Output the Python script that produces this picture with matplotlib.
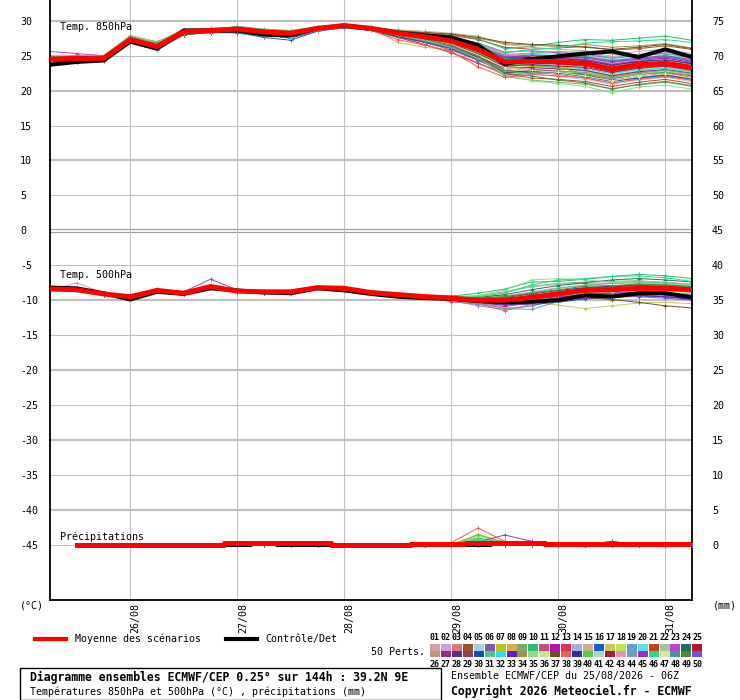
import numpy as np
import matplotlib
matplotlib.use("Agg")
import matplotlib.pyplot as plt
from matplotlib.patches import Rectangle
from matplotlib.lines import Line2D

MONO = "DejaVu Sans Mono"

# time axis: 25/08 06Z + 0..144h, every 6h
hours = np.arange(0, 145, 6)
day_hours = [18, 42, 66, 90, 114, 138]
day_labels = ["26/08", "27/08", "28/08", "29/08", "30/08", "31/08"]

left_ticks = list(range(-45, 31, 5))
right_ticks = list(range(0, 76, 5))

mean_850 = [24.5, 24.6, 24.6, 27.3, 26.3, 28.4, 28.6, 28.8, 28.4, 28.2, 28.9, 29.3, 28.9,
            28.2, 27.7, 27.1, 25.9, 24.1, 24.2, 24.1, 23.9, 23.1, 23.7, 23.9, 23.3]
ctrl_850 = [23.7, 24.1, 24.3, 27.0, 26.0, 28.6, 28.6, 28.6, 28.0, 27.9, 28.9, 29.3, 28.9,
            28.3, 27.9, 27.6, 26.5, 23.8, 24.5, 24.9, 25.3, 25.6, 24.8, 25.9, 24.8]
mean_500 = [-8.4, -8.5, -9.1, -9.5, -8.6, -9.0, -8.05, -8.7, -8.8, -8.8, -8.2, -8.3, -8.9,
            -9.2, -9.5, -9.7, -10.0, -10.0, -9.6, -9.1, -8.6, -8.5, -8.3, -8.3, -8.5]
ctrl_500 = [-8.2, -8.3, -9.0, -9.9, -8.8, -9.1, -8.3, -8.6, -8.9, -9.0, -8.3, -8.6, -9.1,
            -9.5, -9.7, -9.8, -10.1, -10.3, -10.2, -10.0, -9.3, -9.5, -9.0, -9.0, -9.6]
# precipitation (mm), from +6h
mean_rr = [0, 0, 0, 0, 0, 0, 0.2, 0.2, 0.2, 0.2, 0, 0, 0, 0.1, 0.1,
           0.25, 0.25, 0.25, 0.15, 0.15, 0.15, 0.15, 0.15, 0.15]
ctrl_rr = [0, 0, 0, 0, 0, 0, 0, 0.2, 0, 0, 0, 0, 0, 0.1, 0.1,
           0, 0.2, 0.2, 0, 0, 0, 0, 0, 0]

member_colors = [
    "#d4a0a8", "#d0a0e0", "#d87880", "#a0522d", "#a0d0e8", "#8058b0", "#c0c020", "#d8b050",
    "#78b068", "#28c070", "#c85078", "#c010b0", "#e03050", "#a0b0e0", "#c8b088", "#1860c0",
    "#c8c860", "#b8e850", "#68a0d8", "#60e0e8", "#c04020", "#a0c8a0", "#c040d0", "#207060",
    "#b01828", "#c09878", "#903078", "#603080", "#904050", "#1850a0", "#58c090", "#30e0e0",
    "#6020d0", "#a09050", "#90d890", "#c8e888", "#705020", "#e86058", "#383080", "#50d040",
    "#b0d8c8", "#a02040", "#e890c8", "#70a0b0", "#a030c0", "#20e090", "#e0e8a0", "#409898",
    "#508838", "#7050e8"]

members_850 = """
24.9 24.8 24.9 27.6 26.5 28.6 28.9 28.5 28.3 28.0 28.7 29.1 28.6 27.9 27.2 26.4 25.1 23.4 23.0 23.2 22.8 22.0 22.6 23.0 22.4
24.2 24.4 24.3 27.0 26.0 28.1 28.4 29.0 28.6 28.4 29.1 29.4 29.1 28.6 28.0 27.6 26.6 25.1 25.3 25.4 25.6 24.9 25.2 25.5 25.0
24.7 24.9 24.8 27.5 26.7 28.5 28.7 28.6 28.1 27.8 28.6 29.2 28.8 27.7 26.6 25.5 24.0 22.2 22.6 22.3 21.8 21.0 21.7 22.1 21.4
24.4 24.5 24.7 27.2 26.2 28.3 28.8 29.1 28.7 28.5 29.0 29.3 29.0 28.5 28.2 27.9 27.3 26.2 25.9 26.1 26.3 25.8 26.0 26.4 25.9
24.6 24.7 24.5 27.4 26.4 28.5 28.3 28.2 27.8 27.5 28.5 29.0 28.7 28.0 27.4 26.8 25.2 22.7 22.4 22.0 21.6 20.9 21.5 21.9 21.3
24.3 24.5 24.6 27.1 26.1 28.2 28.6 28.9 28.5 28.3 29.0 29.4 29.0 28.4 27.9 27.3 26.2 24.6 24.8 25.0 24.7 24.0 24.4 24.6 24.1
24.8 24.6 24.7 27.7 26.8 28.7 28.9 28.7 28.2 28.0 28.8 29.2 28.7 28.0 27.3 26.5 25.0 23.0 23.5 23.3 22.9 22.2 22.8 23.3 22.7
24.5 24.7 24.6 27.3 26.5 28.4 28.5 28.4 28.1 27.9 28.7 29.1 28.9 26.9 26.2 25.8 24.6 23.3 23.8 24.0 23.6 22.8 23.4 23.8 23.1
24.6 24.4 24.5 27.2 26.0 28.3 28.6 29.2 28.8 28.6 29.1 29.3 28.8 28.1 27.5 26.7 24.8 22.0 21.5 21.2 20.9 20.3 20.8 21.2 20.6
24.9 25.0 24.9 27.8 27.0 28.6 28.7 28.9 28.5 28.2 28.9 29.4 29.1 28.6 28.3 28.0 27.4 26.0 26.3 26.9 27.3 27.2 27.5 27.8 27.2
24.2 24.3 24.4 26.9 25.9 28.0 28.4 28.6 28.3 28.1 28.8 29.2 28.7 27.8 26.9 25.8 24.3 22.8 23.1 22.7 22.3 21.5 22.0 22.5 21.9
24.7 24.8 24.8 27.4 26.3 28.5 28.8 29.0 28.6 28.4 29.0 29.3 28.9 28.3 27.8 27.2 26.1 24.8 24.5 24.9 24.5 23.8 24.3 24.7 24.0
24.4 24.6 24.7 27.2 26.2 28.4 28.5 28.6 28.0 27.6 28.6 29.1 28.6 27.6 26.6 25.4 23.9 22.5 22.9 22.8 22.4 21.7 22.3 22.6 22.1
24.5 24.5 24.4 27.3 26.3 28.4 28.6 28.8 28.4 28.2 28.9 29.3 28.9 28.2 27.6 27.0 25.5 23.6 23.9 23.6 23.3 22.5 23.1 23.4 22.8
25.0 24.9 25.0 27.9 26.9 28.8 28.9 28.6 28.2 28.0 28.8 29.2 28.9 28.7 28.5 28.2 27.8 26.6 26.2 25.9 25.7 25.2 25.6 25.9 25.3
24.1 24.3 24.4 26.8 25.8 28.0 28.3 28.3 27.6 27.2 28.5 29.0 28.6 27.9 27.2 26.4 25.0 23.5 23.8 23.9 23.7 23.0 23.6 23.8 23.2
24.6 24.7 24.8 27.4 26.5 28.5 28.7 28.9 28.5 28.3 28.9 29.4 29.0 28.4 28.0 27.5 26.5 25.3 25.1 24.7 24.3 23.6 24.0 24.3 23.7
24.4 24.5 24.5 27.1 26.1 28.2 28.8 29.0 28.7 28.5 29.1 29.3 28.8 28.0 27.4 26.6 25.3 23.1 22.6 22.5 22.7 22.0 22.4 22.9 22.3
24.8 24.8 24.7 27.6 26.6 28.6 28.6 28.5 28.0 27.7 28.7 29.2 28.8 28.1 27.6 27.0 25.8 24.0 24.3 24.2 24.0 23.2 23.8 24.0 23.5
24.3 24.4 24.6 27.0 26.0 28.3 28.6 28.7 28.3 28.1 28.8 29.2 28.9 28.3 27.9 27.4 26.4 24.9 25.2 25.0 25.0 24.4 24.7 25.1 24.5
24.7 24.6 24.7 27.5 26.4 28.4 28.7 28.6 28.2 28.0 28.7 29.2 28.7 27.8 27.0 26.1 24.5 22.4 21.8 21.6 21.3 20.6 21.2 21.6 21.0
24.5 24.6 24.6 27.3 26.2 28.4 28.5 28.8 28.4 28.1 28.9 29.3 28.9 28.2 27.7 27.2 26.0 24.3 24.6 24.4 24.2 23.5 24.0 24.2 23.6
25.6 25.3 25.0 27.4 26.6 28.6 28.8 29.1 28.6 28.3 29.0 29.4 29.0 28.5 28.1 27.7 26.8 25.5 25.7 25.4 25.2 24.6 25.0 25.3 24.7
24.3 24.4 24.3 27.0 25.9 28.1 28.4 28.4 27.9 27.7 28.6 29.1 28.7 28.0 27.3 26.3 24.7 22.9 22.5 22.6 22.2 21.4 21.9 22.3 21.7
24.8 24.9 24.8 27.6 26.7 28.6 28.7 28.8 28.4 28.2 28.9 29.3 28.8 28.1 27.5 26.9 25.5 23.8 24.1 23.8 23.5 22.7 23.3 23.6 23.0
24.4 24.6 24.5 27.2 26.3 28.4 28.6 28.7 28.3 28.0 28.8 29.2 28.8 28.2 27.7 27.0 25.7 24.1 24.4 24.3 24.1 23.3 23.9 24.1 23.5
24.6 24.5 24.7 27.3 26.2 28.3 28.5 28.9 28.6 28.4 29.0 29.3 28.9 28.3 27.8 27.3 26.3 24.7 24.9 24.6 24.4 23.7 24.1 24.4 23.9
24.5 24.7 24.6 27.5 26.5 28.5 28.7 28.6 28.1 27.9 28.7 29.2 28.7 27.9 27.1 26.2 24.8 23.2 23.3 23.1 22.9 22.1 22.7 23.0 22.5
24.2 24.3 24.5 26.9 25.9 28.1 28.5 28.8 28.5 28.3 29.0 29.3 28.9 28.4 27.9 27.4 26.5 25.0 24.7 24.4 24.1 23.4 23.8 24.2 23.6
24.7 24.7 24.6 27.4 26.4 28.5 28.6 28.5 28.0 27.5 28.6 29.1 28.6 27.7 26.9 26.0 24.4 22.6 22.8 22.5 22.0 21.3 21.8 22.2 21.6
24.6 24.8 24.8 27.6 26.6 28.6 28.8 29.0 28.6 28.4 29.0 29.4 29.0 28.4 27.9 27.4 26.4 25.1 25.4 25.6 25.4 24.7 25.1 25.3 24.8
23.5 24.0 24.3 27.1 26.0 28.2 28.5 28.7 28.2 28.0 28.8 29.2 28.8 28.1 27.5 26.8 25.4 23.7 23.6 23.4 23.1 22.4 23.0 23.2 22.6
24.5 24.6 24.7 27.3 26.3 28.5 28.7 28.8 28.4 28.2 28.9 29.3 28.9 28.2 27.6 27.1 25.9 24.4 24.2 24.0 23.8 23.1 23.6 23.8 23.2
24.9 24.8 24.9 27.7 26.8 28.7 28.8 28.7 28.3 28.1 28.8 29.3 29.0 28.6 28.3 28.0 27.5 26.7 26.5 26.3 26.6 26.2 26.4 26.7 26.1
24.4 24.4 24.5 27.1 26.1 28.3 28.6 28.9 28.5 28.3 28.9 29.3 28.8 28.0 27.2 26.2 24.6 22.3 21.4 21.0 20.6 19.7 20.5 20.8 20.2
24.6 24.7 24.6 27.4 26.4 28.4 28.6 28.6 28.2 28.0 28.8 29.2 28.8 28.2 27.7 27.1 25.8 24.2 24.5 24.3 24.2 23.4 23.9 24.3 23.7
24.2 24.3 24.4 26.9 25.9 28.0 28.3 28.4 27.9 27.6 28.6 29.1 28.8 28.5 28.3 28.1 27.6 26.9 26.6 26.5 26.2 25.9 26.2 26.6 26.0
24.7 24.8 24.7 27.5 26.5 28.5 28.8 29.0 28.6 28.4 29.0 29.3 28.6 27.3 26.5 25.6 23.4 21.9 22.3 22.1 21.8 21.1 21.6 22.0 21.5
24.5 24.5 24.6 27.2 26.2 28.3 28.6 28.8 28.4 28.2 28.9 29.3 28.9 28.3 27.8 27.3 26.2 24.5 24.8 24.6 24.3 23.6 24.2 24.4 23.8
24.8 24.9 24.9 27.7 26.7 28.6 28.7 28.5 28.1 27.8 28.7 29.2 28.7 27.9 27.2 26.5 25.2 23.9 23.6 23.3 22.4 21.8 22.3 22.7 22.2
24.3 24.4 24.5 27.0 26.1 28.2 28.5 28.8 28.4 28.1 28.9 29.3 28.9 28.3 27.8 27.2 26.1 24.4 24.0 24.1 23.9 23.2 23.8 24.0 23.4
24.6 24.6 24.6 27.4 26.4 28.5 28.7 28.7 28.3 28.1 28.8 29.2 28.8 28.1 27.5 26.7 25.3 23.5 23.7 23.5 23.3 22.6 23.2 23.5 22.9
24.4 24.6 24.7 27.3 26.4 28.4 28.6 28.9 28.5 28.3 29.0 29.3 28.9 28.4 28.0 27.5 26.6 25.2 25.0 24.8 24.6 23.9 24.4 24.8 24.2
24.7 24.7 24.8 27.5 26.5 28.6 28.8 28.8 28.3 28.0 28.8 29.2 28.7 27.9 27.1 26.2 24.5 22.8 22.4 22.8 22.6 21.9 22.5 22.9 22.4
24.5 24.5 24.4 27.2 26.2 28.3 28.5 28.6 28.2 28.0 28.8 29.2 28.8 28.2 27.6 27.0 25.6 24.0 24.2 24.5 24.8 24.3 24.6 25.0 24.4
24.6 24.8 24.7 27.6 26.6 28.6 28.9 29.1 28.7 28.5 29.1 29.4 29.0 28.5 28.1 27.6 26.7 25.4 25.9 26.1 26.8 27.0 27.1 27.3 26.9
24.3 24.4 24.5 27.0 26.0 28.2 28.4 28.5 28.0 27.7 28.6 29.1 28.7 28.0 27.4 26.6 25.1 23.3 22.9 22.6 22.1 21.4 22.0 22.4 21.8
24.8 24.7 24.8 27.6 26.6 28.5 28.7 28.7 28.3 28.1 28.8 29.2 28.8 28.2 27.7 27.2 26.0 24.6 24.3 24.7 24.9 24.2 24.5 24.9 24.3
24.5 24.6 24.6 27.3 26.3 28.4 28.6 28.8 28.4 28.2 28.9 29.3 28.9 28.1 27.4 26.5 24.9 22.5 22.1 21.5 21.1 20.2 20.9 21.3 20.7
24.6 24.5 24.7 27.4 26.4 28.5 28.7 28.9 28.5 28.3 29.0 29.3 28.9 28.3 27.9 27.4 26.3 24.8 25.1 24.9 24.7 24.1 24.5 24.8 24.2
"""

members_500 = """
-8.6 -7.5 -9.0 -9.4 -8.5 -8.9 -8.2 -8.8 -8.9 -8.7 -8.3 -8.5 -9.0 -9.3 -9.4 -9.5 -9.8 -9.9 -9.4 -8.9 -8.5 -8.3 -8.1 -8.2 -8.4
-8.3 -8.6 -9.2 -9.6 -8.7 -8.9 -7.9 -8.6 -8.7 -8.9 -8.1 -8.2 -8.8 -9.1 -9.3 -9.5 -9.6 -9.4 -8.8 -8.2 -7.9 -7.6 -7.5 -7.7 -8.0
-8.5 -8.4 -9.0 -9.5 -8.7 -9.1 -8.1 -8.8 -8.9 -8.8 -8.3 -8.4 -9.0 -9.3 -9.6 -9.9 -10.3 -10.5 -10.2 -9.9 -9.5 -9.6 -9.3 -9.4 -9.8
-8.4 -8.5 -9.1 -9.4 -8.5 -9.0 -8.0 -8.7 -8.8 -8.9 -8.2 -8.3 -8.8 -9.1 -9.5 -9.9 -10.1 -10.4 -10.0 -9.4 -9.0 -8.7 -8.8 -9.0 -9.3
-8.3 -8.4 -9.2 -9.6 -8.6 -8.9 -8.1 -8.6 -8.7 -8.8 -8.2 -8.3 -8.9 -9.2 -9.4 -9.6 -9.9 -10.0 -9.4 -8.6 -8.1 -8.0 -7.8 -7.9 -8.1
-8.5 -8.6 -9.0 -9.4 -8.4 -8.8 -7.0 -8.5 -8.8 -8.7 -8.1 -8.2 -8.9 -9.3 -9.6 -9.8 -10.1 -10.2 -9.8 -9.3 -8.7 -8.6 -8.4 -8.3 -8.5
-8.4 -8.5 -9.1 -9.5 -8.7 -9.0 -8.1 -8.7 -8.9 -8.8 -8.3 -8.4 -9.0 -9.3 -9.5 -9.6 -9.8 -9.7 -9.6 -9.4 -9.1 -8.9 -8.7 -8.8 -9.0
-8.6 -8.5 -9.0 -9.4 -8.6 -9.0 -8.0 -8.8 -8.8 -8.9 -8.2 -8.4 -8.9 -9.0 -9.2 -9.4 -9.5 -9.3 -9.2 -9.0 -8.8 -8.5 -8.4 -8.4 -8.6
-8.4 -8.4 -9.1 -9.5 -8.5 -9.1 -8.2 -8.7 -8.7 -8.8 -8.3 -8.3 -8.9 -9.2 -9.5 -9.5 -9.4 -8.8 -8.0 -7.6 -7.4 -7.3 -7.2 -7.5 -7.7
-8.3 -8.5 -9.0 -9.6 -8.6 -9.0 -8.1 -8.6 -8.8 -8.8 -8.2 -8.3 -8.9 -9.2 -9.4 -9.4 -9.0 -8.4 -7.4 -7.3 -7.0 -6.6 -6.3 -6.5 -6.9
-8.5 -8.6 -9.2 -9.5 -8.7 -8.9 -8.0 -8.8 -8.9 -8.9 -8.3 -8.4 -9.0 -9.3 -9.6 -9.8 -10.2 -10.4 -10.1 -9.6 -9.2 -9.0 -8.9 -9.1 -9.4
-8.4 -8.5 -9.1 -9.4 -8.6 -9.0 -8.1 -8.7 -8.8 -8.8 -8.2 -8.3 -8.9 -9.2 -9.5 -9.7 -10.0 -9.9 -9.5 -9.0 -8.6 -8.4 -8.2 -8.2 -8.4
-8.4 -8.6 -9.0 -9.5 -8.5 -9.0 -8.0 -8.7 -8.8 -8.9 -8.2 -8.3 -8.8 -9.1 -9.6 -10.2 -10.6 -10.9 -10.4 -9.8 -9.3 -9.1 -8.9 -9.0 -9.2
-8.5 -8.5 -9.1 -9.5 -8.6 -9.0 -8.1 -8.7 -8.7 -8.7 -8.2 -8.3 -8.9 -9.2 -9.4 -9.8 -10.5 -11.1 -10.9 -9.9 -9.0 -8.7 -8.5 -8.6 -8.8
-8.3 -8.4 -9.0 -9.4 -8.6 -8.9 -8.1 -8.7 -8.8 -8.8 -8.1 -8.3 -8.9 -9.2 -9.5 -9.7 -9.9 -10.0 -9.7 -9.3 -9.0 -8.9 -8.8 -8.9 -9.1
-8.5 -8.5 -9.1 -9.6 -8.6 -9.0 -8.0 -8.8 -8.9 -8.8 -8.3 -8.4 -9.0 -9.3 -9.6 -9.9 -10.3 -10.6 -10.3 -9.7 -9.1 -8.9 -8.6 -8.7 -9.0
-8.4 -8.5 -9.0 -9.5 -8.6 -9.0 -8.1 -8.7 -8.8 -8.8 -8.2 -8.3 -8.9 -9.2 -9.5 -9.7 -10.0 -10.1 -10.3 -10.7 -11.2 -10.8 -10.4 -10.3 -10.5
-8.4 -8.5 -9.1 -9.5 -8.7 -9.1 -8.1 -8.7 -8.8 -8.9 -8.2 -8.4 -8.9 -9.2 -9.4 -9.5 -9.6 -9.5 -9.1 -8.7 -8.3 -8.1 -7.9 -8.0 -8.2
-8.5 -8.6 -9.1 -9.4 -8.5 -9.0 -8.0 -8.7 -8.8 -8.8 -8.2 -8.3 -8.9 -9.2 -9.6 -10.0 -10.8 -11.3 -10.8 -9.9 -9.2 -8.9 -8.7 -8.8 -9.0
-8.4 -8.5 -9.0 -9.5 -8.6 -9.0 -8.1 -8.6 -8.8 -8.8 -8.2 -8.3 -8.9 -9.2 -9.5 -9.7 -9.9 -9.7 -9.3 -8.8 -8.4 -8.2 -8.0 -8.1 -8.4
-8.3 -8.5 -9.1 -9.5 -8.6 -9.0 -8.1 -8.7 -8.8 -8.8 -8.2 -8.3 -8.9 -9.2 -9.5 -9.8 -10.2 -10.3 -9.9 -9.4 -8.9 -8.6 -8.4 -8.5 -8.7
-8.5 -8.5 -9.0 -9.5 -8.6 -9.0 -8.0 -8.7 -8.8 -8.8 -8.2 -8.3 -8.9 -9.2 -9.5 -9.6 -9.4 -8.9 -8.1 -7.7 -7.6 -7.5 -7.3 -7.4 -7.8
-8.4 -8.4 -9.1 -9.5 -8.6 -9.0 -8.1 -8.7 -8.8 -8.8 -8.2 -8.3 -8.9 -9.2 -9.5 -9.7 -10.0 -10.1 -9.8 -9.2 -8.6 -8.3 -8.1 -8.1 -8.4
-8.4 -8.5 -9.1 -9.5 -8.6 -9.0 -8.1 -8.7 -8.8 -8.8 -8.2 -8.3 -8.9 -9.2 -9.5 -9.7 -9.6 -9.2 -8.5 -7.9 -7.5 -7.1 -6.9 -7.1 -7.4
-8.5 -8.6 -9.1 -9.4 -8.6 -9.0 -8.1 -8.7 -8.8 -8.8 -8.2 -8.3 -8.9 -9.3 -9.6 -10.0 -10.4 -10.7 -10.4 -9.9 -9.4 -9.2 -9.0 -9.1 -9.3
-8.4 -8.5 -9.1 -9.5 -8.6 -9.0 -8.1 -8.7 -8.8 -8.8 -8.2 -8.3 -8.9 -9.2 -9.5 -9.7 -10.0 -10.0 -9.6 -9.1 -8.6 -8.5 -8.3 -8.3 -8.5
-8.5 -8.5 -9.2 -9.6 -8.7 -9.1 -8.1 -8.8 -8.9 -8.9 -8.3 -8.4 -9.0 -9.3 -9.6 -9.8 -10.2 -10.3 -10.0 -9.5 -9.1 -9.0 -8.9 -9.2 -9.6
-8.3 -8.4 -9.0 -9.4 -8.5 -8.9 -8.0 -8.6 -8.7 -8.7 -8.1 -8.2 -8.8 -9.1 -9.4 -9.6 -9.8 -9.6 -9.1 -8.6 -8.2 -8.0 -7.8 -7.8 -8.0
-8.5 -8.5 -9.1 -9.5 -8.6 -9.0 -8.1 -8.7 -8.8 -8.8 -8.2 -8.3 -8.9 -9.2 -9.5 -9.7 -10.0 -10.2 -9.9 -9.4 -9.0 -8.8 -8.7 -8.8 -9.1
-8.4 -8.5 -9.1 -9.5 -8.6 -9.0 -8.1 -8.7 -8.8 -8.8 -8.2 -8.3 -8.9 -9.2 -9.5 -9.7 -10.1 -10.5 -10.6 -10.3 -9.8 -9.6 -9.4 -9.5 -9.8
-8.4 -8.5 -9.0 -9.5 -8.6 -9.0 -8.1 -8.7 -8.8 -8.8 -8.2 -8.3 -8.9 -9.2 -9.5 -9.6 -9.7 -9.5 -8.9 -8.3 -7.8 -7.6 -7.4 -7.5 -7.8
-8.4 -8.5 -9.1 -9.5 -8.6 -9.0 -8.1 -8.7 -8.8 -8.8 -8.2 -8.3 -8.9 -9.2 -9.5 -9.7 -10.0 -10.1 -9.7 -9.2 -8.8 -8.6 -8.4 -8.5 -8.8
-8.5 -8.6 -9.1 -9.5 -8.6 -9.0 -8.1 -8.7 -8.8 -8.9 -8.2 -8.3 -8.9 -9.2 -9.6 -9.9 -10.4 -10.6 -10.4 -10.0 -9.7 -9.4 -9.3 -9.5 -9.9
-8.4 -8.5 -9.1 -9.5 -8.6 -9.0 -8.1 -8.7 -8.8 -8.8 -8.2 -8.3 -8.9 -9.2 -9.5 -9.7 -10.0 -10.0 -9.5 -9.0 -8.5 -8.3 -8.0 -8.1 -8.3
-8.4 -8.5 -9.1 -9.5 -8.6 -9.0 -8.1 -8.7 -8.8 -8.8 -8.2 -8.3 -8.9 -9.2 -9.5 -9.6 -9.3 -8.6 -7.1 -6.9 -7.1 -7.4 -7.6 -7.7 -7.9
-8.5 -8.5 -9.1 -9.5 -8.6 -9.0 -8.1 -8.7 -8.8 -8.8 -8.2 -8.3 -8.9 -9.2 -9.5 -9.7 -10.0 -10.1 -9.6 -9.1 -8.7 -8.6 -8.4 -8.4 -8.6
-8.4 -8.5 -9.1 -9.5 -8.6 -9.0 -8.1 -8.7 -8.8 -8.8 -8.2 -8.3 -8.9 -9.2 -9.5 -9.8 -10.1 -10.2 -10.0 -9.8 -9.6 -9.9 -10.3 -10.8 -11.1
-8.4 -8.5 -9.1 -9.5 -8.6 -9.0 -8.1 -8.7 -8.8 -8.8 -8.2 -8.3 -8.9 -9.2 -9.5 -10.0 -10.5 -11.5 -10.6 -9.6 -8.9 -8.6 -8.3 -8.4 -8.6
-8.5 -8.5 -9.1 -9.5 -8.6 -9.0 -8.1 -8.7 -8.8 -8.8 -8.2 -8.3 -8.9 -9.2 -9.5 -9.7 -10.1 -10.3 -10.1 -9.6 -9.1 -8.8 -8.6 -8.6 -8.9
-8.4 -8.5 -9.1 -9.5 -8.6 -9.0 -8.1 -8.7 -8.8 -8.8 -8.2 -8.3 -8.9 -9.2 -9.5 -9.7 -9.9 -9.8 -9.4 -8.9 -8.5 -8.4 -8.1 -8.2 -8.5
-8.4 -8.5 -9.1 -9.5 -8.6 -9.0 -8.1 -8.7 -8.8 -8.8 -8.2 -8.3 -8.9 -9.2 -9.5 -9.7 -10.2 -10.4 -10.0 -9.5 -9.0 -8.8 -8.5 -8.7 -9.0
-8.4 -8.5 -9.1 -9.5 -8.6 -9.0 -8.1 -8.7 -8.8 -8.8 -8.2 -8.3 -8.9 -9.2 -9.5 -9.7 -10.0 -9.9 -9.4 -8.8 -8.3 -8.1 -7.9 -8.0 -8.2
-8.5 -8.5 -9.1 -9.5 -8.6 -9.0 -8.1 -8.7 -8.8 -8.8 -8.2 -8.3 -8.9 -9.2 -9.5 -9.7 -10.0 -10.2 -9.9 -9.4 -8.9 -8.7 -8.5 -8.6 -8.9
-8.4 -8.5 -9.1 -9.5 -8.6 -9.0 -8.1 -8.7 -8.8 -8.8 -8.2 -8.3 -8.9 -9.2 -9.5 -9.8 -10.4 -11.2 -11.3 -10.2 -9.4 -9.1 -8.8 -8.9 -9.2
-8.4 -8.5 -9.1 -9.5 -8.6 -9.0 -8.1 -8.7 -8.8 -8.8 -8.2 -8.3 -8.9 -9.2 -9.5 -9.7 -10.0 -10.1 -9.8 -9.5 -9.2 -9.0 -8.8 -9.0 -9.5
-8.4 -8.5 -9.1 -9.5 -8.6 -9.0 -8.1 -8.7 -8.8 -8.8 -8.2 -8.3 -8.9 -9.2 -9.5 -9.6 -9.5 -9.0 -7.8 -7.1 -6.9 -6.6 -6.5 -6.8 -7.3
-8.5 -8.5 -9.1 -9.5 -8.6 -9.0 -8.1 -8.7 -8.8 -8.8 -8.2 -8.3 -8.9 -9.2 -9.5 -9.7 -10.0 -10.0 -9.7 -9.3 -8.9 -8.8 -8.7 -8.8 -9.0
-8.4 -8.5 -9.1 -9.5 -8.6 -9.0 -8.1 -8.7 -8.8 -8.8 -8.2 -8.3 -8.9 -9.2 -9.5 -9.7 -10.1 -10.2 -9.8 -9.2 -8.7 -8.5 -8.3 -8.3 -8.6
-8.4 -8.5 -9.1 -9.5 -8.6 -9.0 -8.1 -8.7 -8.8 -8.8 -8.2 -8.3 -8.9 -9.2 -9.5 -9.6 -9.7 -9.5 -9.0 -8.5 -8.0 -7.9 -7.7 -7.8 -8.1
-8.5 -8.5 -9.1 -9.5 -8.6 -9.0 -8.1 -8.7 -8.8 -8.8 -8.2 -8.3 -8.9 -9.2 -9.5 -9.8 -10.3 -10.6 -10.3 -9.9 -9.6 -9.5 -9.5 -9.7 -10.0
"""

# precipitation per member (mm), from +6h
members_rr = """
0 0 0 0 0 0 0 0 0 0 0 0 0 0 0 0 0 0 0 0 0 0 0 0
0 0 0 0 0 0 0 0 0 0 0 0 0 0 0 0 0 0 0 0 0 0 0 0
0 0 0 0 0 0 0 0 0 0 0 0 0 0 0 0 0 0 0 0 0 0 0 0
0 0 0 0 0 0 0 0 0 0 0 0 0 0 0 0 0 0 0 0 0 0 0 0
0 0 0 0 0 0 0 0 0 0 0 0 0 0 0 0.6 0 0 0 0 0 0 0 0
0 0 0 0 0 0 0 0 0 0 0 0 0 0 0 0 0 0 0 0 0 0 0 0
0 0 0 0 0 0 0 0 0 0 0 0 0 0 0 1.5 0.4 0 0 0 0 0 0 0
0 0 0 0 0 0 0 0.1 0 0 0 0 0 0 0 0 0 0 0 0 0 0 0 0
0 0 0 0 0 0 0 0 0 0 0 0 0 0 0 0 0 0 0 0 0 0 0 0
0 0 0 0 0 0 0 0 0 0 0 0 0 0 0 0.8 0 0 0 0 0 0 0 0
0 0 0 0 0 0 0 0 0 0 0 0 0 0 0 0 0 0 0 0 0 0 0 0
0 0 0 0 0 0 0 0 0 0 0 0 0 0 0 0.3 0 0 0 0 0 0 0 0
0 0 0 0 0 0 0 0 0 0 0 0 0 0 0 0 0 0 0 0 0 0 0 0
0 0 0 0 0 0 0 0 0 0 0 0 0 0 0 0.9 0.2 0 0 0 0 0 0 0
0 0 0 0 0 0 0 0 0 0 0 0 0 0 0 0 0 0 0 0 0 0 0 0
0 0 0 0 0 0 0 0 0 0 0 0 0 0 0 0 0 0.4 0.3 0 0 0 0 0
0 0 0 0 0 0 0 0 0 0 0 0 0 0 0 0 0 0 0 0 0 0 0 0
0 0 0 0 0 0 0 0 0 0 0 0 0 0 0 1.2 0.3 0 0 0 0 0 0 0
0 0 0 0 0 0 0 0 0 0 0 0 0 0 0 0 0 0 0 0 0 0 0 0
0 0 0 0 0 0 0 0 0 0 0 0 0 0 0 0 0 0 0 0 0 0 0 0
0 0 0 0 0 0 0 0 0 0 0 0 0 0 0 0 0 0 0 0 0 0 0 0
0 0 0 0 0 0 0 0 0 0 0 0 0 0 0 0 0 0 0 0 0 0 0 0
0 0 0 0 0 0 0 0 0 0 0 0 0 0 0 0 0 0 0 0 0 0 0 0
0 0 0 0 0 0 0 0 0 0 0 0 0 0 0 0 0 0 0 0 0 0 0 0
0 0 0 0 0 0 0 0 0 0 0 0 0 0 0 0 0 0 0 0 0 0 0 0
0 0 0 0 0 0 0 0 0 0.1 0 0 0 0 0 0 0 0 0 0 0 0 0 0
0 0 0 0 0 0 0 0 0 0 0 0 0 0 0 0 0 0 0 0 0 0 0 0
0 0 0 0 0 0 0 0 0 0 0 0 0 0 0 0 0 0 0 0 0 0 0 0
0 0 0 0 0 0 0 0 0 0 0 0 0 0 0 0 0 0 0 0 0 0 0 0
0 0 0 0 0 0 0 0 0 0 0 0 0 0 0 0 0 0.3 0.3 0 0 0 0 0
0 0 0 0 0 0 0 0 0 0 0 0 0 0 0 1.0 0.2 0 0 0 0 0 0 0
0 0 0 0 0 0 0 0 0 0 0 0 0 0 0 0 0 0 0 0 0 0 0 0
0 0 0 0 0 0 0 0 0 0 0 0 0 0 0 0 0 0 0 0 0.5 0 0 0
0 0 0 0 0 0 0 0 0 0 0 0 0 0 0 0 0 0 0 0 0 0 0 0
0 0 0 0 0 0 0 0 0 0 0 0 0 0 0 0 0 0 0 0 0 0 0 0
0 0 0 0 0 0 0 0 0 0 0 0 0 0 0 0 0 0 0 0 0 0 0 0
0 0 0 0 0 0 0 0 0 0 0 0 0 0 0 0 0 0 0 0 0 0 0 0
0 0 0 0 0 0 0 0 0 0 0 0 0 0 0.3 2.4 0.5 0 0 0 0 0 0 0
0 0 0 0 0 0 0 0 0 0 0 0 0 0 0 0 0 0 0 0 0 0 0 0
0 0 0 0 0 0 0 0 0 0 0 0 0 0 0 1.4 0.3 0 0 0 0 0 0 0
0 0 0 0 0 0 0 0 0 0 0 0 0 0 0 0 0 0 0 0 0 0 0 0
0 0 0 0 0 0 0 0 0 0 0 0 0 0 0 0 0 0 0 0 0 0 0 0
0 0 0 0 0 0 0 0 0 0 0 0 0 0 0 0 0 0 0 0 0 0 0 0
0 0 0 0 0 0 0 0 0 0 0 0 0 0 0 0 0.5 0 0 0 0 0 0 0
0 0 0 0 0 0 0 0 0 0 0 0 0 0 0 0.4 1.4 0.5 0 0 0 0 0 0
0 0 0 0 0 0 0 0 0 0 0 0 0 0 0 0.7 0.3 0 0 0 0 0 0 0
0 0 0 0 0 0 0 0 0 0 0 0 0 0 0 0 0 0 0 0 0 0 0 0
0 0 0 0 0 0 0 0 0 0 0 0 0 0 0 0 0 0 0 0 0 0 0 0
0 0 0 0 0 0 0 0 0 0 0 0 0 0 0 0 0 0 0 0 0 0 0 0
0 0 0 0 0 0 0 0 0 0 0 0 0 0 0 0 0 0 0 0 0.4 0 0 0
"""


def parse(block):
    return np.array([row.split() for row in block.strip().splitlines()], dtype=float)


t850 = parse(members_850)
t500 = parse(members_500)
rr = parse(members_rr)

W, H = 740, 700


def fx(x):
    return x / W


def fy(y):
    return 1 - y / H


fig = plt.figure(figsize=(7.4, 7.0), dpi=100)
ax = fig.add_axes([fx(50), fy(600), fx(692) - fx(50), fy(0) - fy(600)])
ax.set_xlim(0, 144)
ax.set_ylim(-52.9, 32.96)

# grid
for v in range(-45, 31, 5):
    if v == 0:
        continue
    ax.axhline(v, color="#c0c0c0", lw=1.6 if v % 10 == 0 else 0.8, zorder=0)
ax.axhline(0.2, color="#a0a0a0", lw=0.9, zorder=0)
ax.axhline(-0.25, color="#a0a0a0", lw=0.9, zorder=0)
for h in day_hours:
    ax.axvline(h, color="#c0c0c0", lw=0.8, zorder=0)

# members
for k in range(len(member_colors)):
    col = member_colors[k]
    ax.plot(hours, t850[k], color=col, lw=0.7, marker="+", ms=3.5, mew=0.7, zorder=2)
    ax.plot(hours, t500[k], color=col, lw=0.7, marker="+", ms=3.5, mew=0.7, zorder=2)

ax.plot(hours, ctrl_850, color="black", lw=2.9, zorder=3)
ax.plot(hours, ctrl_500, color="black", lw=2.9, zorder=3)
ax.plot(hours, mean_850, color="red", lw=3.6, zorder=4)
ax.plot(hours, mean_500, color="red", lw=3.6, zorder=4)

# precipitation on the right-hand scale
ax2 = ax.twinx()
ax2.set_ylim(-52.9 + 45, 32.96 + 45)
for k in range(len(member_colors)):
    ax2.plot(hours[1:], rr[k], color=member_colors[k], lw=0.7, marker="+", ms=3.5, mew=0.7, zorder=2)
ax2.plot(hours[1:], ctrl_rr, color="black", lw=2.9, drawstyle="steps-mid", zorder=3)
ax2.plot(hours[1:], mean_rr, color="red", lw=3.6, drawstyle="steps-mid", zorder=4)

# axes cosmetics
for a in (ax, ax2):
    a.spines["top"].set_visible(False)
ax2.spines["left"].set_visible(False)
ax2.spines["bottom"].set_visible(False)
ax2.spines["right"].set_visible(False)
for s in ("left", "right", "bottom"):
    ax.spines[s].set_linewidth(1.3)

ax.set_xticks([])
ax.set_yticks(left_ticks)
ax.set_yticklabels([str(v) for v in left_ticks], family=MONO, fontsize=7.2)
ax.tick_params(axis="y", length=0, pad=21.6)
for lab in ax.get_yticklabels():
    lab.set_horizontalalignment("left")
ax2.set_yticks(right_ticks)
ax2.set_yticklabels([str(v) for v in right_ticks], family=MONO, fontsize=7.2)
ax2.tick_params(axis="y", length=0, pad=14.4)

for h, lab in zip(day_hours, day_labels):
    fig.text(fx(50 + h * 642 / 144 + 5.5), fy(603), lab, rotation=90, ha="center", va="top",
             family=MONO, fontsize=7.2)
fig.text(fx(20), fy(606), "(°C)", ha="left", va="center", family=MONO, fontsize=7.2)
fig.text(fx(713), fy(606), "(mm)", ha="left", va="center", family=MONO, fontsize=7.2)

ax.text(2.2, 29.1, "Temp. 850hPa", family=MONO, fontsize=7.2, va="center", zorder=5)
ax.text(2.2, -6.4, "Temp. 500hPa", family=MONO, fontsize=7.2, va="center", zorder=5)
ax.text(2.2, -43.9, "Précipitations", family=MONO, fontsize=7.2, va="center", zorder=5)

# legend
fig.add_artist(Line2D([fx(35), fx(66)], [fy(639), fy(639)], color="red", lw=3.0))
fig.text(fx(75), fy(639), "Moyenne des scénarios", family=MONO, fontsize=7.2, va="center")
fig.add_artist(Line2D([fx(226), fx(257)], [fy(639), fy(639)], color="black", lw=3.0))
fig.text(fx(265), fy(639), "Contrôle/Det", family=MONO, fontsize=7.2, va="center")
fig.text(fx(371), fy(652), "50 Perts.", family=MONO, fontsize=7.2, va="center")

step = 10.93
for i in range(25):
    x0 = 430 + i * step
    for row in range(2):
        k = i + 25 * row
        y0 = 644 + row * 6.7
        fig.add_artist(Rectangle((fx(x0), fy(y0 + 6.7)), 10 / W, 6.7 / H,
                                 facecolor=member_colors[k], edgecolor="none"))
    fig.text(fx(x0 + 5), fy(637.5), "%02d" % (i + 1), family=MONO, fontsize=6,
             fontweight="bold", ha="center", va="center")
    fig.text(fx(x0 + 5), fy(664.5), "%02d" % (i + 26), family=MONO, fontsize=6,
             fontweight="bold", ha="center", va="center")

# title boxes
fig.add_artist(Rectangle((fx(20), fy(700)), 421 / W, 32.5 / H, facecolor="none",
                         edgecolor="black", lw=1.0))
fig.text(fx(30), fy(677), "Diagramme ensembles ECMWF/CEP 0.25° sur 144h : 39.2N 9E",
         family=MONO, fontsize=8.3, fontweight="bold", va="center")
fig.text(fx(30), fy(691.5), "Températures 850hPa et 500hPa (°C) , précipitations (mm)",
         family=MONO, fontsize=7.2, va="center")
fig.text(fx(451), fy(676), "Ensemble ECMWF/CEP du 25/08/2026 - 06Z",
         family=MONO, fontsize=7.2, va="center")
fig.text(fx(451), fy(691.5), "Copyright 2026 Meteociel.fr - ECMWF",
         family=MONO, fontsize=8.3, fontweight="bold", va="center")

fig.savefig("out.png", dpi=100)
